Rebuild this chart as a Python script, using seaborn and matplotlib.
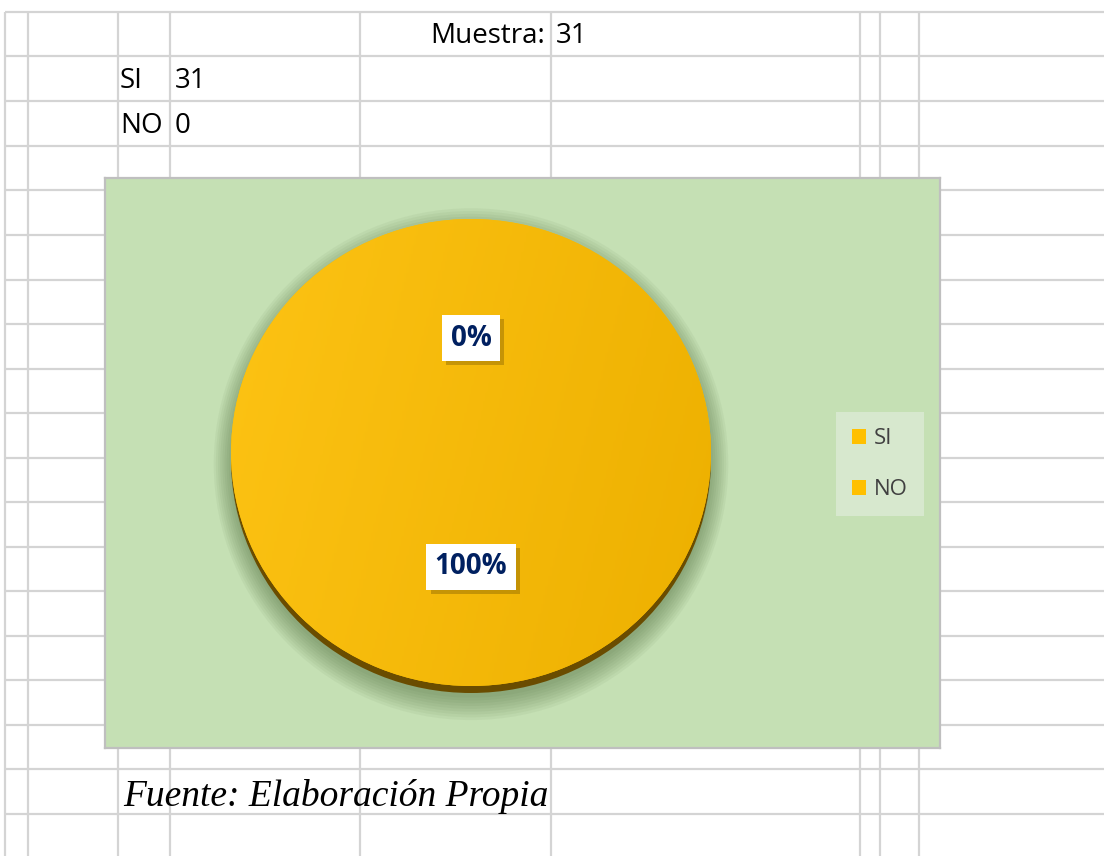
import numpy as np
import matplotlib.pyplot as plt
import matplotlib.patheffects as pe
from matplotlib.patches import Ellipse
from matplotlib.colors import LinearSegmentedColormap
import seaborn as sns

## Data
categorias = ['SI', 'NO']
respuestas = [31, 0]
muestra = 31
fuente = 'Fuente: Elaboración Propia'

# spreadsheet cell borders, in pixels
filas_y = [12, 56, 101, 146, 190, 235, 280, 324, 369, 413, 458, 502, 547,
           591, 636, 680, 725, 769, 814]
columnas_x = [5, 28, 118, 170, 360, 551, 860, 880, 919]

sns.set_theme(style='white')
plt.rcParams['font.family'] = ['Open Sans', 'DejaVu Sans']
colores = sns.color_palette(['#FFC000', '#FFC000'])

W, H = 1104, 856
fig = plt.figure(figsize=(W / 100, H / 100), dpi=100)
fig.patch.set_facecolor('white')


def px(x0, y0, x1, y1):
    # pixel box (top-left origin) -> figure fraction rect
    return [x0 / W, 1 - y1 / H, (x1 - x0) / W, (y1 - y0) / H]


## sheet background with grid and cell texts
hoja = fig.add_axes([0, 0, 1, 1])
hoja.set_xlim(0, W)
hoja.set_ylim(H, 0)
hoja.axis('off')
hoja.hlines(filas_y, 5, W, color='#D4D4D4', lw=1.6)
hoja.vlines(columnas_x, 12, H, color='#D4D4D4', lw=1.6)

hoja.text(545, 36, 'Muestra:', ha='right', va='center', fontsize=20, color='black')
hoja.text(556, 36, str(muestra), ha='left', va='center', fontsize=20, color='black')
for i, (c, v) in enumerate(zip(categorias, respuestas)):
    hoja.text(120, 81 + 45 * i, c, ha='left', va='center', fontsize=20, color='black')
    hoja.text(175, 81 + 45 * i, str(v), ha='left', va='center', fontsize=20, color='black')

hoja.text(123, 797, fuente, ha='left', va='center', fontsize=27,
          family='Liberation Serif', style='italic', color='black')

## chart area
chart = fig.add_axes(px(105, 178, 940, 748))
chart.set_facecolor('#C5E0B4')
chart.set_xticks([])
chart.set_yticks([])
for s in chart.spines.values():
    s.set_color('#BFBFBF')
    s.set_linewidth(1.6)

## pie
ax = fig.add_axes(px(231, 219, 711, 686))
ax.set_facecolor('none')

# soft outer shadow and 3d rim
for k in range(9):
    ax.add_patch(Ellipse((0, -0.05), 2.0 + 0.018 * k, 2.0 + 0.024 * k,
                         color='#3E5C2C', alpha=0.055, lw=0, clip_on=False, zorder=0.2))
ax.add_patch(Ellipse((0, -0.03), 2.0, 2.0, color='#6A4C00', lw=0, clip_on=False, zorder=0.5))

wedges, texts, autotexts = ax.pie(respuestas, colors=colores, startangle=90,
                                  counterclock=False, autopct='%1.0f%%',
                                  pctdistance=0.49, radius=1,
                                  wedgeprops=dict(linewidth=0))

# light gradient on the slice
gx, gy = np.meshgrid(np.linspace(0, 1, 200), np.linspace(0, 1, 200))
grad = 0.8 * gx + 0.2 * gy
cmap = LinearSegmentedColormap.from_list('amarillo', ['#FDC314', '#EDB000'])
im = ax.imshow(grad, extent=(-1, 1, -1, 1), cmap=cmap, aspect='auto',
               origin='upper', zorder=1.5)
im.set_clip_path(wedges[0])

ax.set_xlim(-1, 1)
ax.set_ylim(-1, 1)
ax.set_aspect('auto')
ax.axis('off')

for t in autotexts:
    t.set_color('#002060')
    t.set_fontweight('bold')
    t.set_fontsize(20)
    t.set_zorder(5)
    t.set_bbox(dict(boxstyle='square,pad=0.3', fc='white', ec='none'))
    t.get_bbox_patch().set_path_effects([
        pe.withSimplePatchShadow(offset=(3, -3), shadow_rgbFace='#5A4000', alpha=0.3),
        pe.Normal()])

## legend
fig.legend(wedges, categorias, loc='center', bbox_to_anchor=(880 / W, 1 - 464 / H),
           fontsize=16, frameon=True, facecolor='#D7E8CE', edgecolor='none',
           framealpha=1, fancybox=False, labelspacing=1.35, handlelength=0.65,
           handleheight=0.65, handletextpad=0.35, borderpad=0.7, labelcolor='#404040')

fig.savefig('out.png', dpi=100)
